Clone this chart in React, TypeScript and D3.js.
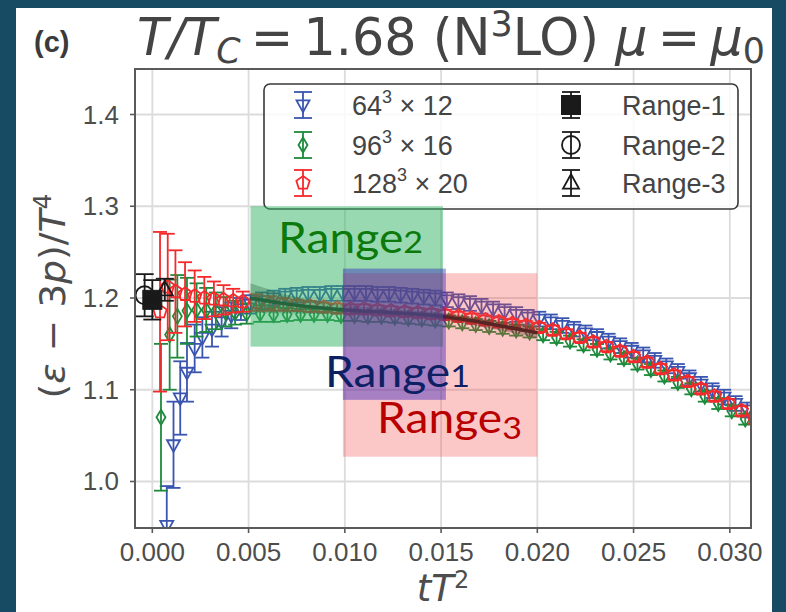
import React from 'react';
import * as d3 from 'd3';

// ---------- data ----------
const xTicks = [0, 0.005, 0.01, 0.015, 0.02, 0.025, 0.03];
const xTickLabels = ['0.000', '0.005', '0.010', '0.015', '0.020', '0.025', '0.030'];
const yTicks = [1.0, 1.1, 1.2, 1.3, 1.4];
const yTickLabels = ['1.0', '1.1', '1.2', '1.3', '1.4'];

const blueX = [0.00075, 0.0011, 0.00145, 0.0018, 0.0022, 0.0026, 0.0031, 0.0036, 0.0041, 0.0046, 0.0051, 0.0057, 0.0063, 0.0069, 0.0075, 0.0081, 0.0087, 0.0093, 0.0099, 0.0105, 0.0111, 0.0117, 0.0123, 0.0129, 0.0135, 0.0141, 0.0147, 0.0153, 0.0159, 0.0165, 0.0171, 0.0177, 0.0183, 0.0189, 0.0195, 0.0201, 0.0207, 0.0213, 0.0219, 0.0225, 0.0231, 0.0237, 0.0243, 0.0249, 0.0255, 0.0261, 0.0267, 0.0273, 0.0279, 0.0285, 0.0291, 0.0297, 0.0303, 0.0309];
const blueY = [0.952, 1.040, 1.091, 1.119, 1.145, 1.157, 1.166, 1.174, 1.181, 1.188, 1.193, 1.197, 1.200, 1.202, 1.203, 1.204, 1.204, 1.205, 1.205, 1.205, 1.205, 1.204, 1.204, 1.203, 1.202, 1.201, 1.200, 1.198, 1.196, 1.194, 1.191, 1.188, 1.185, 1.182, 1.179, 1.177, 1.174, 1.170, 1.166, 1.162, 1.158, 1.153, 1.148, 1.143, 1.138, 1.132, 1.126, 1.120, 1.113, 1.106, 1.099, 1.092, 1.085, 1.078];
const blueErr = [0.043, 0.047, 0.040, 0.032, 0.026, 0.022, 0.019, 0.016, 0.014, 0.012, 0.010, 0.009, 0.008, 0.008, 0.008, 0.008, 0.008, 0.008, 0.008, 0.008, 0.008, 0.008, 0.008, 0.008, 0.008, 0.008, 0.008, 0.008, 0.008, 0.008, 0.008, 0.008, 0.008, 0.008, 0.008, 0.008, 0.008, 0.008, 0.008, 0.008, 0.008, 0.008, 0.008, 0.008, 0.008, 0.008, 0.008, 0.008, 0.008, 0.008, 0.008, 0.008, 0.008, 0.008];

const greenX = [0.00045, 0.0009, 0.0013, 0.0018, 0.0023, 0.0028, 0.0033, 0.0038, 0.0043, 0.0049, 0.0056, 0.0063, 0.0070, 0.0077, 0.0084, 0.0091, 0.0098, 0.0105, 0.0112, 0.0119, 0.0126, 0.0133, 0.0140, 0.0147, 0.0154, 0.0161, 0.0168, 0.0175, 0.0182, 0.0189, 0.0196, 0.0203, 0.0210, 0.0217, 0.0224, 0.0231, 0.0238, 0.0245, 0.0252, 0.0259, 0.0266, 0.0273, 0.0280, 0.0287, 0.0294, 0.0301, 0.0308];
const greenY = [1.070, 1.160, 1.180, 1.186, 1.187, 1.187, 1.186, 1.185, 1.184, 1.183, 1.183, 1.182, 1.182, 1.182, 1.182, 1.182, 1.181, 1.181, 1.180, 1.180, 1.179, 1.178, 1.177, 1.176, 1.175, 1.173, 1.171, 1.169, 1.167, 1.165, 1.163, 1.160, 1.157, 1.153, 1.149, 1.144, 1.139, 1.134, 1.128, 1.122, 1.115, 1.108, 1.101, 1.093, 1.085, 1.077, 1.068];
const greenErr = [0.080, 0.060, 0.045, 0.036, 0.029, 0.024, 0.020, 0.016, 0.013, 0.011, 0.009, 0.008, 0.007, 0.006, 0.006, 0.006, 0.006, 0.006, 0.006, 0.006, 0.006, 0.006, 0.006, 0.006, 0.006, 0.006, 0.006, 0.006, 0.006, 0.006, 0.006, 0.006, 0.006, 0.006, 0.006, 0.006, 0.006, 0.006, 0.006, 0.006, 0.006, 0.006, 0.006, 0.006, 0.006, 0.006, 0.006];

const redX = [0.0004, 0.0008, 0.0012, 0.0017, 0.0022, 0.0027, 0.0032, 0.0037, 0.0042, 0.0047, 0.0054, 0.0061, 0.0068, 0.0075, 0.0082, 0.0089, 0.0096, 0.0103, 0.0110, 0.0117, 0.0124, 0.0131, 0.0138, 0.0145, 0.0152, 0.0159, 0.0166, 0.0173, 0.0180, 0.0187, 0.0194, 0.0201, 0.0208, 0.0215, 0.0222, 0.0229, 0.0236, 0.0243, 0.0250, 0.0257, 0.0264, 0.0271, 0.0278, 0.0285, 0.0292, 0.0299, 0.0306, 0.0313];
const redY = [1.185, 1.212, 1.207, 1.204, 1.202, 1.200, 1.199, 1.198, 1.197, 1.196, 1.195, 1.194, 1.193, 1.192, 1.191, 1.190, 1.189, 1.188, 1.188, 1.187, 1.186, 1.185, 1.184, 1.183, 1.182, 1.180, 1.178, 1.176, 1.174, 1.172, 1.170, 1.168, 1.165, 1.161, 1.157, 1.152, 1.147, 1.142, 1.136, 1.130, 1.123, 1.116, 1.109, 1.101, 1.093, 1.085, 1.077, 1.068];
const redErr = [0.087, 0.058, 0.045, 0.035, 0.028, 0.023, 0.019, 0.016, 0.013, 0.011, 0.009, 0.008, 0.007, 0.006, 0.006, 0.005, 0.005, 0.005, 0.005, 0.005, 0.005, 0.005, 0.005, 0.005, 0.005, 0.005, 0.005, 0.005, 0.005, 0.005, 0.005, 0.005, 0.005, 0.005, 0.005, 0.005, 0.005, 0.005, 0.005, 0.005, 0.005, 0.005, 0.005, 0.005, 0.005, 0.005, 0.005, 0.005];

// continuum-extrapolated points (Range-1, Range-2, Range-3)
const extrapNames = ['Range-1', 'Range-2', 'Range-3'];
const extrapX = [0.0, -0.0004, 0.00065];
const extrapY = [1.198, 1.203, 1.209];
const extrapErr = [0.0215, 0.023, 0.012];

// fit curve with band
const fitX = [0.0051, 0.0075, 0.01, 0.0125, 0.015, 0.0175, 0.02];
const fitY = [1.200, 1.192, 1.187, 1.184, 1.180, 1.172, 1.162];
const fitErr = [0.016, 0.009, 0.005, 0.004, 0.004, 0.005, 0.006];

// shaded range boxes: [x0, x1, y0, y1]
const range2Box = [0.0051, 0.0151, 1.147, 1.300];
const range3Box = [0.0099, 0.0200, 1.027, 1.227];
const range1Box = [0.0099, 0.01525, 1.089, 1.232];
// annotation anchors [x, y]
const range2Label = [0.00653, 1.249];
const range1Label = [0.00897, 1.103];
const range3Label = [0.01167, 1.053];

const seriesLabels = ['64', '96', '128'];
const seriesLabelTails = [' × 12', ' × 16', ' × 20'];

// ---------- markers ----------
const BLUE = '#3a55b0';
const GREEN = '#1e8a3c';
const RED = '#f5292b';

function triDown(s: number) {
  return `M${-s / 2},${-s * 0.35}L${s / 2},${-s * 0.35}L0,${s * 0.55}Z`;
}
function triUp(s: number) {
  return `M${-s / 2},${s * 0.35}L${s / 2},${s * 0.35}L0,${-s * 0.55}Z`;
}
function pentagon(r: number) {
  const pts = d3.range(5).map((k) => {
    const a = -Math.PI / 2 + (k * 2 * Math.PI) / 5;
    return [r * Math.cos(a), r * Math.sin(a)];
  });
  return 'M' + pts.map((p) => p.join(',')).join('L') + 'Z';
}
function thinDiamond(w: number, h: number) {
  return `M0,${-h / 2}L${w / 2},0L0,${h / 2}L${-w / 2},0Z`;
}

type MarkerKind = 'tri' | 'dia' | 'pent' | 'sq' | 'circ' | 'triup';

function Marker({ kind, color }: { kind: MarkerKind; color: string }) {
  const sw = 1.8;
  if (kind === 'tri') return <path d={triDown(13)} fill="none" stroke={color} strokeWidth={sw} />;
  if (kind === 'dia') return <path d={thinDiamond(9, 15)} fill="none" stroke={color} strokeWidth={sw} />;
  if (kind === 'pent') return <path d={pentagon(7)} fill="none" stroke={color} strokeWidth={sw} />;
  if (kind === 'sq') return <rect x={-9.5} y={-9.5} width={19} height={19} fill="#1a1a1a" stroke="#1a1a1a" />;
  if (kind === 'circ') return <circle r={9} fill="none" stroke="#1a1a1a" strokeWidth={sw} />;
  return <path d={triUp(16)} fill="none" stroke="#1a1a1a" strokeWidth={sw} />;
}

function ErrBar({ cx, cy, top, bot, cap, color, kind }: { cx: number; cy: number; top: number; bot: number; cap: number; color: string; kind: MarkerKind }) {
  return (
    <g>
      <line x1={cx} x2={cx} y1={top} y2={bot} stroke={color} strokeWidth={1.8} />
      <line x1={cx - cap} x2={cx + cap} y1={top} y2={top} stroke={color} strokeWidth={1.8} />
      <line x1={cx - cap} x2={cx + cap} y1={bot} y2={bot} stroke={color} strokeWidth={1.8} />
      <g transform={`translate(${cx},${cy})`}>
        <Marker kind={kind} color={color} />
      </g>
    </g>
  );
}

export default function App() {
  const W = 786;
  const H = 612;
  const L = 135, R = 751, T = 69, B = 528;
  const x = d3.scaleLinear().domain([-0.0009, 0.0311]).range([L, R]);
  const y = d3.scaleLinear().domain([0.9493, 1.4496]).range([B, T]);

  const series = [
    { xs: blueX, ys: blueY, es: blueErr, color: BLUE, kind: 'tri' as MarkerKind },
    { xs: greenX, ys: greenY, es: greenErr, color: GREEN, kind: 'dia' as MarkerKind },
    { xs: redX, ys: redY, es: redErr, color: RED, kind: 'pent' as MarkerKind },
  ];
  const extrapKinds: MarkerKind[] = ['sq', 'circ', 'triup'];

  const bandArea = d3
    .area<number>()
    .x((_, i) => x(fitX[i]))
    .y0((_, i) => y(fitY[i] - fitErr[i]))
    .y1((_, i) => y(fitY[i] + fitErr[i]))
    .curve(d3.curveMonotoneX);
  const fitLine = d3
    .line<number>()
    .x((_, i) => x(fitX[i]))
    .y((d) => y(d))
    .curve(d3.curveMonotoneX);

  const box = (b: number[], fill: string) => (
    <rect x={x(b[0])} y={y(b[3])} width={x(b[1]) - x(b[0])} height={y(b[2]) - y(b[3])} fill={fill} />
  );

  const legendRows = [105, 145, 183];
  const tickFont = 'Liberation Sans, Arial, sans-serif';
  const mathFont = 'DejaVu Sans, sans-serif';
  const rangeFont = 'Lato, Open Sans, sans-serif';

  return (
    <svg width={W} height={H} style={{ position: 'absolute', left: 0, top: 0 }} xmlns="http://www.w3.org/2000/svg">
      <defs>
        <clipPath id="plotclip">
          <rect x={L} y={T} width={R - L} height={B - T} />
        </clipPath>
      </defs>
      <rect x={0} y={0} width={W} height={H} fill="#164b63" />
      <rect x={16} y={8} width={756} height={H - 8} fill="#ffffff" />

      {/* grid */}
      {xTicks.map((t) => (
        <line key={'gx' + t} x1={x(t)} x2={x(t)} y1={T} y2={B} stroke="#dcdcdc" strokeWidth={1.8} />
      ))}
      {yTicks.map((t) => (
        <line key={'gy' + t} x1={L} x2={R} y1={y(t)} y2={y(t)} stroke="#dcdcdc" strokeWidth={1.8} />
      ))}

      {/* data */}
      <g clipPath="url(#plotclip)">
        {series.map((s, si) => (
          <g key={'s' + si}>
            {s.xs.map((xv, i) => (
              <ErrBar key={i} cx={x(xv)} cy={y(s.ys[i])} top={y(s.ys[i] + s.es[i])} bot={y(s.ys[i] - s.es[i])} cap={7} color={s.color} kind={s.kind} />
            ))}
          </g>
        ))}
        {extrapX.map((xv, i) => (
          <ErrBar key={'e' + i} cx={x(xv)} cy={y(extrapY[i])} top={y(extrapY[i] + extrapErr[i])} bot={y(extrapY[i] - extrapErr[i])} cap={9} color="#1a1a1a" kind={extrapKinds[i]} />
        ))}
        <path d={bandArea(fitY) || ''} fill="rgba(30,30,30,0.35)" />
        <path d={fitLine(fitY) || ''} fill="none" stroke="#161616" strokeWidth={3.5} />
      </g>

      {/* frame */}
      <rect x={L} y={T} width={R - L} height={B - T} fill="none" stroke="#5a5a5a" strokeWidth={2} />
      {xTicks.map((t, i) => (
        <g key={'xt' + t}>
          <line x1={x(t)} x2={x(t)} y1={B} y2={B + 5} stroke="#5a5a5a" strokeWidth={1.6} />
          <text x={x(t)} y={561} textAnchor="middle" fontFamily={tickFont} fontSize={26} fill="#4d4d4d">
            {xTickLabels[i]}
          </text>
        </g>
      ))}
      {yTicks.map((t, i) => (
        <g key={'yt' + t}>
          <line x1={L - 5} x2={L} y1={y(t)} y2={y(t)} stroke="#5a5a5a" strokeWidth={1.6} />
          <text x={119} y={y(t) + 9} textAnchor="end" fontFamily={tickFont} fontSize={26} fill="#4d4d4d">
            {yTickLabels[i]}
          </text>
        </g>
      ))}

      {/* axis labels */}
      <text x={443} y={601} textAnchor="middle" fontFamily={mathFont} fontSize={37} fontStyle="italic" fill="#4d4d4d">
        tT<tspan dy={-13} fontSize={24} fontStyle="normal">2</tspan>
      </text>
      <text transform="translate(65,296) rotate(-90)" textAnchor="middle" fontFamily={mathFont} fontSize={36} fill="#4d4d4d" textLength={205} lengthAdjust="spacingAndGlyphs">
        (<tspan fontStyle="italic">ε</tspan> − 3<tspan fontStyle="italic">p</tspan>)/<tspan fontStyle="italic">T</tspan>
        <tspan dy={-14} fontSize={24}>4</tspan>
      </text>

      {/* title */}
      <text x={34} y={52} fontFamily={tickFont} fontWeight="bold" fontSize={29} fill="#3a3a3a">(c)</text>
      <text x={137} y={55} fontFamily={mathFont} fontSize={51} fill="#444" textLength={628} lengthAdjust="spacingAndGlyphs">
        <tspan fontStyle="italic">T/T</tspan>
        <tspan fontStyle="italic" fontSize={35} dy={8}>C</tspan>
        <tspan dy={-8}>{'\u2009=\u20091.68 (N'}</tspan>
        <tspan fontSize={35} dy={-19}>3</tspan>
        <tspan dy={19}>LO) </tspan>
        <tspan fontStyle="italic">μ</tspan>
        <tspan>{'\u2009=\u2009'}</tspan>
        <tspan fontStyle="italic">μ</tspan>
        <tspan fontSize={35} dy={8}>0</tspan>
      </text>

      {/* legend */}
      <rect x={264} y={84} width={474} height={125} rx={6} fill="rgba(255,255,255,0.82)" stroke="#3a3a3a" strokeWidth={1.6} />
      {series.map((s, i) => (
        <g key={'lg' + i}>
          <ErrBar cx={303} cy={legendRows[i]} top={legendRows[i] - 13} bot={legendRows[i] + 13} cap={9} color={s.color} kind={s.kind} />
          <text x={352} y={legendRows[i] + 10} fontFamily={tickFont} fontSize={27} fill="#444">
            {seriesLabels[i]}
            <tspan dy={-12} fontSize={18}>3</tspan>
            <tspan dy={12}>{seriesLabelTails[i]}</tspan>
          </text>
        </g>
      ))}
      {extrapNames.map((n, i) => (
        <g key={'lr' + i}>
          <ErrBar cx={571} cy={legendRows[i]} top={legendRows[i] - 13} bot={legendRows[i] + 13} cap={9} color="#1a1a1a" kind={extrapKinds[i]} />
          <text x={622} y={legendRows[i] + 10} fontFamily={tickFont} fontSize={27} fill="#444">
            {n}
          </text>
        </g>
      ))}

      {/* slide overlay boxes */}
      {box(range2Box, 'rgba(50,180,100,0.5)')}
      {box(range3Box, 'rgba(245,70,70,0.3)')}
      {box(range1Box, 'rgba(40,20,190,0.4)')}

      <text x={x(range2Label[0])} y={y(range2Label[1])} fontFamily={rangeFont} fontSize={42} fill="#0b7a0b" textLength={145} lengthAdjust="spacingAndGlyphs">
        Range<tspan fontSize={31}>2</tspan>
      </text>
      <text x={x(range1Label[0])} y={y(range1Label[1])} fontFamily={rangeFont} fontSize={42} fill="#0d2063" textLength={145} lengthAdjust="spacingAndGlyphs">
        Range<tspan fontSize={31}>1</tspan>
      </text>
      <text x={x(range3Label[0])} y={y(range3Label[1])} fontFamily={rangeFont} fontSize={42} fill="#b80000" textLength={145} lengthAdjust="spacingAndGlyphs">
        Range<tspan fontSize={31} dy={6}>3</tspan>
      </text>
    </svg>
  );
}
